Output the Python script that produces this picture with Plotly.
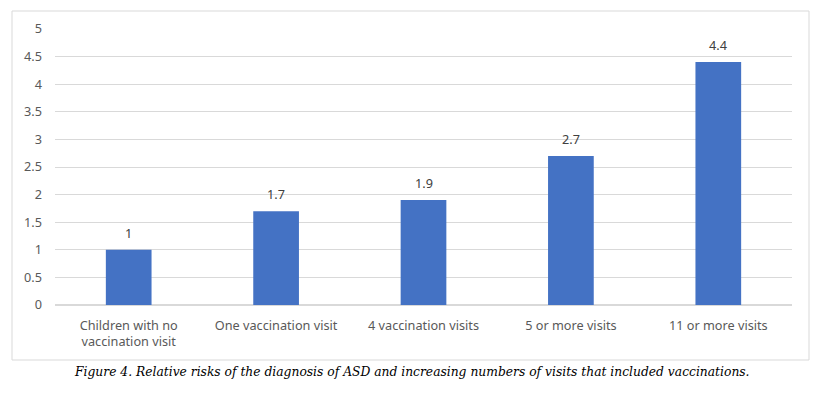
import plotly.graph_objects as go

categories = ["Children with no<br>vaccination visit", "One vaccination visit",
              "4 vaccination visits", "5 or more visits", "11 or more visits"]
values = [1, 1.7, 1.9, 2.7, 4.4]
value_labels = ["1", "1.7", "1.9", "2.7", "4.4"]
y_ticks = [0, 0.5, 1, 1.5, 2, 2.5, 3, 3.5, 4, 4.5, 5]
y_tick_labels = ["0", "0.5", "1", "1.5", "2", "2.5", "3", "3.5", "4", "4.5", "5"]
caption = "Figure 4. Relative risks of the diagnosis of ASD and increasing numbers of visits that included vaccinations."

# figure is placed at (8, 8) in the page by the default body margin
W, H = 804, 378
L, R, T, B = 47, 20, 21, 81
PW, PH = W - L - R, H - T - B


def px(x):
    return (x - 8 - L) / PW


def py(y):
    return (H - B - (y - 8)) / PH


fig = go.Figure(go.Bar(
    x=categories, y=values,
    marker=dict(color="#4472C4", line=dict(width=0)),
    hoverinfo="skip",
))

value_annotations = [
    dict(x=c, y=v, text=t, xref="x", yref="y", showarrow=False, yanchor="bottom",
         yshift=6, font=dict(family="Noto Sans", size=12.7, color="#404040"))
    for c, v, t in zip(categories, values, value_labels)
]

fig.update_layout(
    width=W, height=H,
    margin=dict(l=L, r=R, t=T, b=B),
    paper_bgcolor="white", plot_bgcolor="white",
    bargap=0.69, showlegend=False,
    font=dict(family="Noto Sans", size=12.7, color="#595959"),
    xaxis=dict(showgrid=False, showline=False, ticks="", tickfont=dict(size=12.7, color="#595959"),
               ticklabelstandoff=11),
    yaxis=dict(range=[0, 5], tickvals=y_ticks, ticktext=y_tick_labels, showgrid=True,
               gridcolor="#d9d9d9", gridwidth=1, zeroline=True, zerolinecolor="#d9d9d9",
               showline=False, ticks="", tickfont=dict(size=12.7, color="#595959"),
               ticklabelstandoff=12),
    shapes=[dict(type="rect", xref="paper", yref="paper",
                 x0=px(12), x1=px(809), y0=py(360), y1=py(11),
                 line=dict(color="#d9d9d9", width=1), layer="below")],
    annotations=value_annotations + [
        dict(text=caption, xref="paper", yref="paper", showarrow=False,
             x=px(412), y=py(372), xanchor="center", yanchor="middle",
             font=dict(family="DejaVu Serif", size=12.3, color="#000000", style="italic"))],
)

fig.write_html("out.html")
